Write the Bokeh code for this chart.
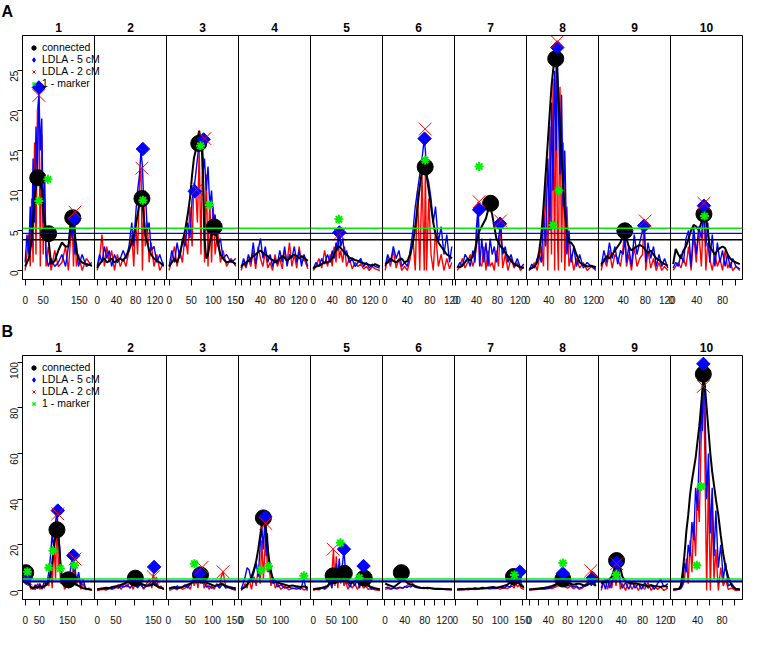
import math
from bokeh.plotting import figure
from bokeh.models import Range1d, FixedTicker, Span, Legend, LegendItem, LinearAxis, Title
from bokeh.layouts import column
from bokeh.embed import file_html
from bokeh.resources import INLINE

FONT = "Liberation Sans"
CHROM_NAMES = ["1", "2", "3", "4", "5", "6", "7", "8", "9", "10"]

# ---------------- Panel A ----------------
A_START = [0, 0, 0, 0, 0, 0.5, 3, 3, 0, 3]
A_END = [185, 138.5, 151, 138, 140, 119, 130.5, 128.5, 121, 107]
A_TICKS = [[0, 50, 100, 150], [0, 20, 40, 60, 80, 100, 120, 140], [0, 50, 100, 150],
           [0, 20, 40, 60, 80, 100, 120, 140], [0, 20, 40, 60, 80, 100, 120, 140],
           [0, 20, 40, 60, 80, 100, 120], [0, 20, 40, 60, 80, 100, 120],
           [0, 20, 40, 60, 80, 100, 120], [0, 20, 40, 60, 80, 100, 120],
           [0, 20, 40, 60, 80, 100]]
A_TICKLAB = [["0", "50", "", "150"], ["0", "", "40", "", "80", "", "120", ""], ["0", "50", "100", "150"],
             ["0", "", "40", "", "80", "", "120", ""], ["0", "", "40", "", "80", "", "120", ""],
             ["0", "", "40", "", "80", "", "120"], ["0", "", "40", "", "80", "", "120"],
             ["0", "", "40", "", "80", "", "120"], ["0", "", "40", "", "80", "", "120"],
             ["0", "", "40", "", "80", ""]]

A_POS = [
    [0, 5, 10, 14, 18, 22, 26, 30, 34, 38, 42, 46, 50, 54, 58, 64, 72, 82, 92, 102, 112, 120, 126, 130, 134, 138, 142, 148, 158, 170, 185],
    [0, 5, 10, 15, 20, 25, 30, 36, 42, 48, 54, 60, 66, 72, 76, 80, 84, 88, 91, 94, 97, 100, 104, 108, 112, 118, 124, 130, 138],
    [0, 6, 12, 18, 24, 30, 36, 42, 47, 52, 56, 60, 64, 68, 72, 76, 80, 84, 88, 92, 96, 100, 104, 110, 116, 122, 130, 140, 151],
    [0, 5, 10, 15, 20, 25, 30, 35, 40, 45, 50, 55, 60, 65, 70, 75, 80, 85, 90, 95, 100, 105, 110, 115, 120, 125, 130, 138],
    [0, 6, 12, 18, 24, 30, 36, 40, 44, 48, 52, 55, 58, 62, 66, 70, 76, 82, 88, 94, 100, 106, 112, 118, 124, 130, 140],
    [0.5, 5, 10, 15, 20, 25, 30, 35, 40, 45, 50, 54, 58, 62, 66, 70, 72, 74, 78, 82, 86, 90, 95, 100, 105, 110, 115, 119],
    [3, 8, 13, 18, 23, 28, 33, 37, 40, 43, 46, 50, 54, 58, 62, 66, 70, 74, 78, 82, 86, 90, 95, 100, 106, 112, 118, 124, 130.5],
    [3, 8, 13, 18, 22, 26, 30, 34, 38, 42, 45, 48, 51, 54, 56, 58, 61, 64, 67, 70, 74, 78, 82, 87, 92, 98, 105, 112, 120, 128.5],
    [0, 5, 10, 15, 20, 25, 30, 35, 40, 43, 46, 50, 55, 60, 65, 70, 75, 78, 81, 85, 90, 95, 100, 105, 110, 115, 121],
    [3, 7, 11, 15, 19, 23, 27, 31, 35, 39, 43, 47, 51, 54, 57, 60, 64, 68, 72, 76, 80, 84, 88, 92, 96, 101, 107],
]
A_BLACK = [
    [0.5, 1.0, 1.5, 2.5, 4.0, 6.5, 9.0, 10.5, 11.6, 11.8, 11.0, 10.0, 7.5, 6.0, 5.0, 4.2, 0.8, 1.2, 2.5, 3.5, 3.0, 3.0, 5.5, 6.6, 6.2, 4.5, 2.5, 1.5, 1.0, 0.8, 0.6],
    [0.3, 0.8, 1.2, 1.5, 1.0, 1.2, 1.5, 1.0, 1.3, 1.5, 1.2, 1.8, 2.5, 3.5, 4.5, 5.5, 7.0, 8.5, 9.0, 8.5, 6.5, 4.5, 3.5, 2.5, 2.0, 1.5, 1.2, 1.0, 0.6],
    [0.5, 1.0, 1.5, 1.0, 2.0, 3.5, 5.0, 7.0, 9.0, 12.0, 14.0, 15.0, 16.5, 17.5, 16.0, 14.0, 4.0, 1.5, 2.0, 3.5, 4.5, 5.5, 5.0, 3.5, 2.0, 1.5, 1.0, 1.2, 0.8],
    [0.5, 0.8, 1.0, 1.2, 1.5, 1.8, 2.0, 2.3, 2.5, 2.2, 2.0, 1.8, 1.5, 1.3, 1.0, 1.2, 1.5, 1.8, 1.6, 1.2, 1.5, 1.8, 2.0, 1.8, 1.5, 1.8, 1.6, 1.2],
    [0.3, 0.5, 0.6, 0.8, 1.0, 1.0, 1.2, 1.5, 2.0, 2.5, 3.0, 3.0, 2.8, 2.5, 2.2, 2.0, 1.6, 1.5, 1.3, 1.2, 1.0, 0.9, 0.8, 0.7, 0.6, 0.8, 0.5],
    [0.8, 1.0, 1.5, 1.2, 1.0, 1.3, 1.5, 1.0, 1.2, 2.0, 3.5, 5.5, 8.0, 10.5, 12.5, 13.0, 12.5, 12.0, 10.0, 8.0, 6.0, 4.5, 3.5, 3.0, 2.5, 2.0, 1.8, 1.5],
    [0.5, 0.4, 0.6, 1.0, 1.5, 1.2, 1.8, 2.5, 3.5, 4.5, 5.0, 5.5, 6.0, 6.5, 7.5, 8.0, 7.0, 5.5, 4.0, 3.5, 3.0, 2.8, 2.2, 1.8, 1.2, 0.8, 0.6, 0.4, 0.3],
    [0.2, 0.3, 0.5, 1.0, 2.5, 4.5, 8.0, 12.0, 16.0, 20.0, 23.0, 25.0, 26.5, 26.0, 24.5, 22.0, 18.0, 14.0, 10.5, 7.5, 4.5, 3.5, 3.5, 3.0, 2.0, 1.0, 0.7, 0.5, 0.6, 0.4],
    [0.8, 1.2, 1.8, 1.5, 2.0, 2.5, 3.0, 3.5, 4.5, 5.0, 4.0, 3.0, 2.5, 2.8, 3.0, 3.2, 3.0, 2.8, 2.5, 2.2, 2.5, 2.0, 1.5, 1.3, 1.0, 0.8, 0.6],
    [0.8, 2.7, 2.0, 1.5, 2.5, 3.0, 4.0, 5.0, 5.7, 5.5, 5.0, 6.0, 7.0, 6.5, 5.0, 3.0, 2.5, 2.0, 2.5, 2.8, 3.0, 2.8, 2.0, 1.5, 1.2, 1.0, 0.8],
]
A_BLUE = [
    [1.0, 4.5, 2.0, 8.0, 3.0, 14.0, 6.0, 18.0, 12.0, 22.9, 15.0, 19.0, 6.0, 12.0, 2.0, 0.5, 1.5, 0.5, 1.0, 2.0, 0.5, 3.0, 6.5, 4.0, 6.5, 2.0, 3.5, 0.5, 2.0, 0.5, 1.0],
    [0.5, 2.0, 1.0, 3.0, 1.5, 2.5, 0.5, 2.0, 1.0, 1.5, 2.5, 1.5, 3.0, 6.0, 3.0, 7.0, 10.0, 12.0, 15.0, 13.0, 8.0, 10.0, 5.0, 6.0, 2.5, 3.0, 1.0, 2.0, 0.5],
    [0.5, 2.5, 1.0, 3.5, 1.5, 4.0, 3.0, 6.0, 4.0, 9.0, 10.0, 12.0, 14.0, 16.0, 16.9, 12.0, 14.0, 10.0, 13.0, 8.0, 10.0, 6.0, 7.0, 3.0, 4.0, 1.5, 2.0, 1.0, 1.5],
    [0.3, 1.5, 0.5, 2.0, 1.0, 3.5, 0.8, 2.5, 4.0, 1.5, 3.0, 1.0, 2.0, 0.5, 1.5, 0.8, 2.5, 1.0, 3.0, 0.5, 2.0, 1.5, 3.0, 1.0, 2.5, 0.5, 2.0, 0.5],
    [0.2, 1.0, 0.5, 1.5, 0.8, 2.0, 1.0, 2.5, 1.5, 3.5, 2.5, 4.75, 3.0, 4.0, 2.0, 2.5, 1.0, 1.5, 0.5, 1.0, 1.5, 0.5, 1.0, 0.3, 0.8, 0.5, 0.3],
    [0.5, 2.0, 1.0, 3.0, 1.5, 2.5, 0.5, 1.0, 0.5, 2.5, 5.0, 8.0, 10.0, 12.0, 14.0, 16.5, 15.0, 12.0, 11.0, 9.0, 6.0, 8.0, 3.5, 5.5, 2.0, 4.5, 1.0, 3.0],
    [0.3, 1.0, 0.5, 2.0, 1.5, 0.5, 2.5, 1.0, 5.5, 7.6, 0.5, 4.0, 1.0, 3.5, 0.5, 4.0, 2.0, 3.0, 1.0, 4.0, 5.8, 2.0, 3.0, 1.0, 2.0, 0.5, 1.5, 0.3, 0.8],
    [0.0, 0.8, 0.3, 1.5, 2.0, 1.0, 7.0, 3.0, 14.0, 5.0, 21.0, 10.0, 25.0, 15.0, 27.9, 20.0, 12.0, 22.0, 8.0, 15.0, 2.0, 5.0, 1.0, 3.0, 0.5, 2.0, 0.3, 1.0, 0.5, 0.2],
    [0.5, 2.5, 1.0, 3.5, 1.5, 3.0, 0.8, 2.5, 2.0, 4.0, 1.0, 3.0, 0.5, 4.5, 2.0, 3.5, 5.0, 5.6, 1.0, 3.5, 1.5, 3.0, 0.5, 2.0, 0.5, 1.5, 0.3],
    [0.3, 1.0, 0.5, 2.0, 1.0, 4.0, 5.0, 0.5, 5.5, 2.0, 5.5, 4.0, 8.1, 3.0, 6.0, 1.0, 4.5, 0.5, 3.5, 1.0, 2.5, 0.5, 2.0, 0.3, 1.5, 0.5, 0.2],
]
A_RED = [
    [0.0, 2.0, 4.5, 0.5, 9.0, 1.0, 16.0, 2.0, 20.0, 21.9, 0.5, 17.0, 2.0, 9.0, 0.5, 3.0, 0.0, 2.5, 0.5, 1.0, 3.0, 0.0, 4.0, 7.3, 0.5, 6.0, 0.5, 2.0, 0.0, 1.5, 0.5],
    [0.0, 1.5, 4.5, 0.5, 3.0, 1.0, 2.5, 0.0, 2.0, 0.5, 1.5, 0.5, 2.5, 4.5, 0.5, 6.0, 2.0, 11.0, 12.8, 0.0, 9.0, 3.0, 6.0, 1.0, 3.5, 0.5, 2.0, 0.0, 1.0],
    [0.0, 1.5, 3.0, 0.5, 2.5, 1.0, 4.5, 2.0, 8.0, 3.0, 11.0, 10.1, 6.0, 15.0, 2.0, 16.5, 1.0, 12.0, 0.5, 9.0, 1.0, 8.0, 2.0, 5.0, 1.0, 2.5, 0.5, 1.5, 0.5],
    [0.0, 1.0, 0.3, 1.5, 0.5, 2.5, 0.2, 3.0, 1.5, 0.5, 2.5, 0.3, 1.0, 0.0, 2.0, 0.5, 1.5, 0.2, 2.5, 1.0, 3.5, 0.5, 2.0, 0.3, 3.0, 1.0, 1.5, 0.2],
    [0.0, 0.5, 1.5, 0.3, 2.5, 0.5, 2.0, 0.5, 3.0, 1.0, 4.5, 1.5, 2.5, 1.0, 3.0, 0.5, 1.5, 0.2, 1.0, 0.5, 0.8, 0.2, 0.5, 0.0, 0.5, 0.2, 0.0],
    [0.0, 1.5, 0.5, 2.5, 0.3, 1.5, 0.0, 0.5, 0.0, 1.5, 4.0, 0.0, 10.0, 0.0, 12.0, 0.0, 13.0, 0.0, 9.0, 2.0, 0.0, 5.0, 0.5, 2.0, 0.0, 1.5, 0.2, 1.0],
    [0.0, 0.5, 1.5, 0.3, 1.0, 2.0, 0.5, 1.5, 3.0, 8.6, 1.0, 0.5, 3.0, 0.0, 2.5, 0.5, 1.0, 0.0, 2.5, 0.5, 6.2, 0.3, 2.0, 0.0, 1.5, 0.3, 1.0, 0.0, 0.5],
    [0.0, 0.3, 1.0, 0.0, 1.5, 3.0, 0.5, 12.0, 0.0, 18.0, 2.0, 24.0, 0.0, 28.6, 5.0, 0.0, 23.0, 1.0, 16.0, 0.0, 8.0, 0.5, 2.0, 0.0, 1.5, 0.3, 1.0, 0.0, 0.5, 0.0],
    [0.0, 1.5, 0.5, 2.5, 0.3, 2.0, 1.5, 0.5, 3.0, 5.5, 0.5, 2.0, 0.0, 3.0, 0.5, 1.5, 2.0, 6.2, 0.0, 2.5, 0.3, 1.5, 0.0, 1.0, 0.0, 0.5, 0.0],
    [0.0, 0.5, 1.0, 0.3, 1.5, 0.5, 3.0, 0.0, 4.5, 1.0, 5.0, 0.5, 8.4, 0.0, 3.5, 1.5, 0.0, 2.0, 0.5, 1.5, 0.0, 2.5, 0.3, 1.0, 0.0, 0.5, 0.0],
]
# peak markers: (chromosome, cM, LOD)
A_CONN = [(1, 35, 11.6), (1, 65, 4.6), (1, 132, 6.6), (2, 93, 9.0), (3, 67, 15.9), (3, 102, 5.45),
          (6, 71.6, 12.95), (7, 67, 8.4), (8, 53, 26.5), (9, 43, 4.96), (10, 51, 7.05)]
A_LD5 = [(1, 38, 22.9), (1, 136, 6.5), (2, 95, 15.2), (3, 58, 9.9), (3, 78, 16.4), (5, 55, 4.75),
         (6, 70.5, 16.5), (7, 45, 7.6), (7, 85, 5.85), (8, 56, 27.9), (9, 78, 5.6), (10, 51, 8.1)]
A_LD2 = [(1, 38, 21.9), (1, 138, 7.3), (2, 93, 12.8), (3, 62, 10.1), (3, 81, 16.5), (5, 55, 4.55),
         (6, 71.6, 17.7), (7, 45, 8.6), (7, 86, 6.2), (8, 56, 28.6), (9, 80, 6.2), (10, 51, 8.4)]
A_MARK = [(1, 38, 8.7), (1, 63, 11.4), (2, 95, 8.8), (3, 71, 15.6), (3, 91, 8.2), (5, 54, 6.4),
          (6, 71.6, 13.8), (7, 45, 13.0), (8, 48, 5.7), (8, 59, 10.0), (10, 52, 6.8)]
A_THRESH = [("#00EE00", 5.29), ("#0000FF", 4.64), ("black", 3.84)]

# ---------------- Panel B ----------------
B_START = [0, 0, 2, 0, 0, 0.5, 4, 0, 2, 0.5]
B_END = [237, 178, 153, 168, 184, 134.5, 153, 138.5, 127.5, 109]
B_TICKS = [[0, 50, 100, 150, 200], [0, 50, 100, 150], [0, 50, 100, 150], [0, 50, 100, 150],
           [0, 50, 100, 150], [0, 20, 40, 60, 80, 100, 120], [0, 50, 100, 150],
           [0, 20, 40, 60, 80, 100, 120, 140], [0, 20, 40, 60, 80, 100, 120],
           [0, 20, 40, 60, 80, 100]]
B_TICKLAB = [["0", "50", "", "150", ""], ["0", "50", "", "150"], ["0", "50", "100", "150"],
             ["0", "50", "100", ""], ["0", "50", "100", ""], ["0", "", "40", "", "80", "", "120"],
             ["0", "50", "100", "150"], ["0", "", "40", "", "80", "", "120", ""],
             ["0", "", "40", "", "80", "", "120"], ["0", "", "40", "", "80", ""]]

B_POS = [
    [0, 5, 10, 15, 20, 28, 36, 44, 52, 60, 68, 76, 84, 90, 96, 102, 108, 113, 118, 122, 126, 132, 140, 148, 155, 162, 168, 172, 176, 182, 190, 198, 205, 215, 226, 237],
    [0, 8, 16, 24, 32, 40, 48, 56, 64, 72, 80, 88, 96, 102, 108, 116, 124, 132, 140, 146, 150, 154, 158, 164, 170, 178],
    [2, 8, 14, 20, 26, 32, 38, 44, 50, 55, 59, 63, 67, 70, 73, 77, 81, 86, 92, 98, 104, 110, 116, 120, 124, 130, 138, 146, 153],
    [0, 5, 10, 15, 20, 26, 32, 38, 43, 48, 52, 56, 60, 63, 66, 70, 75, 80, 86, 92, 100, 110, 120, 130, 140, 150, 158, 163, 168],
    [0, 8, 16, 24, 32, 40, 46, 52, 56, 60, 64, 68, 72, 76, 80, 85, 90, 96, 102, 108, 115, 122, 128, 134, 139, 145, 152, 160, 170, 184],
    [0.5, 6, 12, 18, 24, 30, 36, 40, 44, 48, 52, 56, 60, 66, 72, 78, 85, 92, 100, 108, 116, 124, 134.5],
    [4, 12, 20, 28, 36, 44, 52, 60, 68, 76, 84, 92, 100, 108, 116, 122, 127, 131, 135, 139, 143, 147, 153],
    [0, 8, 16, 24, 32, 40, 48, 54, 60, 65, 70, 75, 80, 86, 92, 98, 104, 110, 116, 122, 126, 129, 132, 135, 138.5],
    [2, 6, 10, 14, 18, 22, 26, 30, 34, 38, 42, 48, 54, 60, 66, 72, 78, 84, 90, 96, 102, 108, 114, 120, 127.5],
    [0.5, 5, 10, 13, 16, 19, 22, 25, 28, 31, 34, 37, 40, 43, 46, 48, 50, 52, 55, 58, 61, 64, 67, 70, 74, 78, 82, 86, 90, 96, 102, 109],
]
B_BLACK = [
    [7.8, 6.0, 4.0, 2.5, 1.5, 1.0, 1.5, 1.2, 1.8, 1.5, 2.0, 2.5, 4.0, 7.0, 12.0, 19.0, 24.0, 26.6, 24.0, 18.0, 10.0, 4.0, 3.0, 3.5, 4.7, 3.5, 3.0, 3.5, 3.0, 2.5, 2.0, 1.5, 1.0, 0.8, 0.5, 0.3],
    [0.5, 0.8, 1.0, 1.2, 1.0, 1.5, 1.8, 2.0, 2.5, 3.0, 3.5, 4.0, 5.0, 5.4, 4.5, 3.0, 2.5, 2.0, 2.2, 2.5, 2.8, 2.5, 2.0, 1.5, 1.2, 0.8],
    [1.0, 1.2, 1.5, 1.0, 1.3, 1.5, 2.0, 2.5, 3.0, 3.5, 4.0, 4.5, 5.0, 5.5, 6.0, 5.0, 4.0, 3.5, 3.0, 2.5, 2.0, 2.2, 2.5, 3.0, 2.5, 2.0, 1.5, 1.2, 1.0],
    [0.5, 1.0, 1.5, 2.5, 4.0, 6.0, 9.0, 13.0, 18.0, 24.0, 29.0, 31.8, 30.0, 26.0, 20.0, 14.0, 8.0, 5.0, 4.0, 3.5, 3.0, 2.5, 2.0, 2.2, 1.8, 1.5, 1.8, 1.5, 1.2],
    [0.5, 0.8, 1.0, 1.2, 1.5, 2.0, 3.0, 4.5, 5.5, 6.0, 5.5, 4.5, 5.0, 6.0, 7.0, 7.5, 6.0, 4.0, 3.0, 3.5, 4.0, 4.5, 5.0, 5.5, 5.0, 3.0, 2.0, 1.5, 1.0, 0.5],
    [3.0, 2.5, 2.0, 1.5, 2.5, 3.5, 5.0, 4.5, 3.5, 3.0, 2.5, 2.5, 2.0, 1.5, 1.2, 1.0, 1.2, 1.0, 0.8, 0.8, 0.6, 0.5, 0.5],
    [0.5, 0.6, 0.5, 0.8, 0.7, 1.0, 0.8, 1.2, 1.0, 1.3, 1.5, 1.2, 1.5, 2.0, 2.5, 3.5, 5.0, 6.1, 5.5, 4.0, 3.0, 2.0, 1.5],
    [0.5, 0.6, 0.8, 1.0, 1.2, 1.5, 2.0, 2.5, 3.5, 4.5, 5.0, 4.5, 3.5, 3.0, 2.5, 2.8, 3.0, 2.5, 2.0, 2.5, 3.0, 3.5, 3.0, 2.5, 2.0],
    [3.0, 4.0, 3.5, 4.5, 5.0, 6.0, 9.0, 12.5, 13.1, 10.0, 6.0, 4.0, 3.5, 3.0, 3.2, 2.8, 2.5, 2.2, 2.0, 2.3, 2.0, 1.8, 1.5, 2.0, 1.5],
    [0.5, 0.5, 0.8, 2.0, 8.0, 16.0, 26.0, 33.0, 42.0, 48.0, 53.0, 58.0, 65.0, 72.0, 81.0, 88.0, 94.8, 90.0, 80.0, 70.0, 60.0, 52.0, 46.0, 40.0, 33.0, 24.0, 16.0, 10.0, 6.0, 2.0, 0.8, 0.5],
]
B_BLUE = [
    [5.4, 6.0, 3.0, 5.0, 1.5, 0.5, 2.5, 1.0, 3.0, 0.5, 4.0, 2.0, 8.0, 15.0, 25.0, 18.0, 30.0, 35.0, 25.0, 20.0, 12.0, 5.0, 2.0, 4.0, 3.0, 10.0, 15.3, 8.0, 12.0, 4.0, 8.0, 2.0, 5.0, 1.0, 0.5, 0.2],
    [0.3, 0.5, 0.8, 0.5, 1.0, 0.8, 1.5, 1.0, 2.0, 1.5, 2.5, 1.0, 3.0, 2.0, 1.5, 2.5, 1.0, 2.0, 3.0, 2.0, 4.0, 2.5, 3.0, 1.5, 1.0, 0.5],
    [0.5, 1.5, 0.8, 2.0, 1.0, 1.5, 2.5, 1.0, 3.0, 4.0, 6.0, 3.0, 7.5, 5.0, 6.0, 3.0, 4.0, 1.5, 2.0, 1.0, 1.5, 2.5, 1.0, 2.0, 3.0, 1.0, 1.5, 0.5, 0.3],
    [0.5, 3.0, 6.0, 10.0, 9.0, 4.0, 8.0, 12.0, 6.0, 20.0, 28.0, 18.0, 32.2, 15.0, 25.0, 8.0, 10.0, 3.0, 4.0, 1.5, 2.5, 1.0, 1.5, 0.8, 1.2, 0.5, 5.0, 1.0, 0.5],
    [0.3, 0.8, 0.5, 1.2, 0.8, 2.0, 4.0, 1.0, 8.0, 3.0, 12.0, 5.0, 14.0, 6.0, 10.0, 18.1, 6.0, 3.0, 1.5, 4.0, 2.0, 5.0, 1.0, 6.0, 10.7, 2.0, 3.0, 0.5, 1.0, 0.2],
    [1.0, 1.5, 0.8, 1.2, 1.0, 1.5, 1.0, 1.8, 1.2, 2.0, 1.5, 2.2, 1.5, 1.2, 1.0, 1.3, 0.8, 1.0, 0.8, 0.6, 0.8, 0.5, 0.4],
    [0.3, 0.5, 0.4, 0.6, 0.5, 0.8, 0.6, 1.0, 0.8, 1.2, 1.0, 0.8, 1.5, 1.0, 2.0, 1.5, 3.0, 2.0, 4.0, 5.0, 8.2, 3.0, 1.0],
    [0.3, 0.5, 0.6, 0.8, 1.0, 0.8, 1.5, 2.0, 3.0, 4.0, 7.5, 3.0, 2.0, 2.5, 1.5, 2.0, 1.0, 1.5, 2.5, 3.0, 5.0, 2.0, 5.4, 3.0, 6.0],
    [1.0, 4.0, 0.5, 5.0, 1.0, 3.5, 6.0, 10.0, 12.0, 4.0, 1.0, 3.5, 0.5, 4.0, 1.0, 3.0, 0.5, 3.5, 1.0, 2.5, 0.5, 3.0, 5.0, 1.5, 3.0],
    [0.3, 0.5, 0.5, 1.0, 3.0, 12.0, 8.0, 20.0, 15.0, 30.0, 22.0, 45.0, 35.0, 60.0, 80.0, 70.0, 99.3, 85.0, 40.0, 60.0, 25.0, 45.0, 15.0, 35.0, 10.0, 20.0, 5.0, 12.0, 2.0, 3.0, 0.5, 0.3],
]
B_RED = [
    [5.0, 8.0, 2.0, 6.0, 0.5, 1.5, 0.3, 3.0, 0.5, 2.0, 1.0, 4.0, 2.0, 10.0, 1.0, 22.0, 5.0, 33.6, 10.0, 15.0, 3.0, 6.0, 0.5, 2.0, 1.0, 8.0, 3.0, 13.8, 5.0, 2.0, 6.0, 0.5, 3.0, 0.3, 1.0, 0.0],
    [0.0, 0.3, 0.5, 0.2, 0.8, 0.5, 1.0, 2.5, 0.5, 3.0, 1.5, 4.0, 0.5, 3.5, 1.0, 4.0, 0.5, 3.0, 5.0, 1.0, 7.5, 2.0, 6.0, 1.0, 2.0, 0.3],
    [0.0, 0.5, 1.0, 0.3, 1.5, 0.5, 1.0, 2.0, 0.5, 5.0, 2.0, 8.0, 1.0, 6.0, 3.0, 10.2, 1.0, 3.0, 0.5, 2.0, 0.5, 3.0, 1.0, 6.0, 8.2, 2.0, 1.0, 0.5, 0.2],
    [0.0, 1.0, 3.0, 1.0, 5.0, 0.5, 6.0, 2.0, 10.0, 3.0, 22.0, 5.0, 18.0, 29.4, 8.0, 12.0, 2.0, 6.0, 1.0, 3.0, 0.5, 2.0, 0.3, 1.0, 0.5, 1.5, 0.2, 0.5, 0.0],
    [0.0, 0.5, 0.3, 1.0, 0.5, 1.5, 3.0, 8.0, 18.1, 2.0, 15.0, 1.0, 10.0, 3.0, 8.0, 2.0, 4.0, 0.5, 2.5, 1.0, 3.0, 0.5, 2.0, 3.0, 1.0, 2.0, 0.5, 1.0, 0.3, 0.0],
    [0.5, 0.8, 0.5, 1.0, 0.6, 1.2, 1.0, 1.5, 2.0, 3.0, 3.5, 3.0, 2.0, 1.5, 1.0, 1.2, 0.8, 1.0, 0.6, 0.5, 0.6, 0.4, 0.3],
    [0.2, 0.3, 0.5, 0.3, 0.6, 0.4, 0.8, 0.5, 1.0, 0.6, 0.8, 1.0, 0.6, 1.2, 0.8, 1.5, 2.0, 1.0, 3.0, 1.5, 2.5, 1.0, 0.5],
    [0.2, 0.3, 0.4, 0.6, 0.5, 1.0, 0.8, 1.5, 2.0, 2.5, 3.0, 1.5, 1.0, 2.0, 0.8, 1.5, 0.5, 1.0, 2.0, 4.0, 6.0, 8.6, 3.0, 5.0, 2.0],
    [0.0, 3.0, 5.0, 0.5, 4.0, 1.0, 8.0, 2.0, 11.7, 0.5, 3.0, 0.0, 4.0, 0.5, 3.0, 0.0, 2.5, 0.5, 3.5, 0.0, 2.0, 0.5, 1.5, 0.0, 1.0],
    [0.0, 0.3, 0.5, 0.8, 2.0, 5.0, 14.0, 3.0, 22.0, 8.0, 30.0, 15.0, 45.0, 30.0, 65.0, 75.0, 89.4, 60.0, 0.0, 50.0, 0.0, 35.0, 5.0, 18.0, 0.0, 10.0, 2.0, 5.0, 0.5, 1.0, 0.0, 0.2],
]
B_CONN = [(1, 2, 7.8), (1, 113, 26.6), (1, 154, 4.7), (2, 102, 5.4), (3, 73, 6.8), (4, 56, 31.8),
          (5, 55, 6.4), (5, 86, 7.5), (5, 141, 5.4), (6, 33, 7.8), (7, 130, 6.1), (8, 70, 5.0),
          (9, 31, 13.1), (10, 49.6, 94.8)]
B_LD5 = [(1, 4, 5.4), (1, 116, 35.0), (1, 171, 15.3), (2, 152, 10.3), (3, 70, 7.5), (4, 61, 32.2),
         (5, 85, 18.1), (5, 139, 10.7), (7, 144, 8.2), (8, 70, 7.5), (8, 132, 5.4), (9, 31, 12.0),
         (10, 49.6, 99.3)]
B_LD2 = [(1, 4, 5.0), (1, 116, 33.6), (1, 177, 13.8), (2, 150, 6.0), (3, 77, 10.2), (3, 124, 8.2),
         (4, 62, 29.4), (5, 55, 18.1), (8, 128, 8.6), (9, 31, 11.7), (10, 49.6, 89.4)]
B_MARK = [(1, 8, 8.2), (1, 84, 10.0), (1, 99, 17.4), (1, 125, 9.6), (1, 175, 11.0), (3, 59, 11.7),
          (4, 50, 8.9), (4, 69, 10.6), (4, 158, 6.4), (5, 75, 20.9), (5, 127, 5.6), (7, 132, 6.8),
          (8, 70, 12.0), (9, 30, 6.8), (10, 46, 45.6), (10, 39, 11.0)]
B_THRESH = [("#00EE00", 5.0), ("#0000FF", 4.2), ("black", 3.8)]

LEGEND_LABELS = ["connected", "LDLA - 5 cM", "LDLA - 2 cM", "1 - marker"]


def scatter_group(p, pts, **kw):
    for i in range(10):
        xs = [c for (k, c, v) in pts if k == i + 1]
        ys = [v for (k, c, v) in pts if k == i + 1]
        if xs:
            p.scatter(xs, ys, x_range_name="c%d" % i, **kw)


def style_text_axis(ax, size):
    ax.minor_tick_line_color = None
    ax.major_tick_in = 0
    ax.major_label_text_font = FONT
    ax.major_label_text_font_size = size
    ax.major_label_text_color = "#111111"


def build(letter, starts, ends, ticks, ticklabs, pos, black, blue, red,
          conn, ld5, ld2, mark, ylim, yticks, thresholds, top, bottom, frame_h):
    p = figure(frame_width=720, frame_height=frame_h,
               x_range=Range1d(0, 10), y_range=Range1d(*ylim),
               output_backend="svg", toolbar_location=None, title=None,
               min_border_left=22, min_border_right=2,
               min_border_top=top, min_border_bottom=bottom)
    p.background_fill_color = "white"
    p.border_fill_color = "white"
    p.xgrid.visible = False
    p.ygrid.visible = False
    p.outline_line_color = "black"
    p.outline_line_width = 1
    p.outline_line_alpha = 1

    ranges = {}
    gticks, overrides = [], {}
    for i in range(10):
        s, e = starts[i], ends[i]
        pad = 0.04 * (e - s)
        lo, hi = s - pad, e + pad
        w = hi - lo
        ranges["c%d" % i] = Range1d(lo - i * w, hi + (9 - i) * w)
        for t, lab in zip(ticks[i], ticklabs[i]):
            if lo <= t <= hi:
                g = round(i + (t - lo) / w, 6)
                gticks.append(g)
                overrides[g] = lab if lab else " "
    p.extra_x_ranges = ranges

    for i in range(10):
        assert len(pos[i]) == len(black[i]) == len(blue[i]) == len(red[i]), (letter, i)
        nm = "c%d" % i
        p.line(pos[i], red[i], line_color="#FF0000", line_width=1.4, x_range_name=nm)
        p.line(pos[i], blue[i], line_color="#0000FF", line_width=1.4, x_range_name=nm)
        p.line(pos[i], black[i], line_color="black", line_width=2, x_range_name=nm)

    scatter_group(p, conn, marker="circle", size=16, fill_color="black", line_color="black")
    scatter_group(p, ld5, marker="square", angle=math.pi / 4, size=9.5,
                  fill_color="#0000FF", line_color="#0000FF")
    scatter_group(p, ld2, marker="x", size=18, line_color="#FF0000", line_width=1)
    scatter_group(p, mark, marker="asterisk", size=9, line_color="#00EE00", line_width=2)

    for col, v in thresholds:
        p.add_layout(Span(location=v, dimension="width", line_color=col, line_width=1.4))
    for k in range(1, 10):
        p.add_layout(Span(location=k, dimension="height", line_color="black", line_width=1))

    # legend: helper renderers with one point far outside the visible range
    off = ylim[0] - 1000
    l1 = p.scatter([5], [off], marker="circle", fill_color="black", line_color="black")
    l2 = p.scatter([5], [off], marker="diamond", fill_color="#0000FF", line_color="#0000FF")
    l3 = p.scatter([5], [off], marker="x", line_color="#FF0000", line_width=1)
    l4 = p.scatter([5], [off], marker="asterisk", line_color="#00EE00", line_width=1)
    legend = Legend(items=[LegendItem(label=LEGEND_LABELS[0], renderers=[l1]),
                           LegendItem(label=LEGEND_LABELS[1], renderers=[l2]),
                           LegendItem(label=LEGEND_LABELS[2], renderers=[l3]),
                           LegendItem(label=LEGEND_LABELS[3], renderers=[l4])],
                    location="top_left", background_fill_alpha=0, border_line_alpha=0,
                    label_text_font=FONT, label_text_font_size="10.5px", label_text_color="black",
                    glyph_height=11, glyph_width=11, label_height=11, spacing=0,
                    padding=2, margin=4, label_standoff=3)
    p.add_layout(legend)

    # bottom axis: per-chromosome cM ticks
    xa = p.below[0]
    xa.ticker = FixedTicker(ticks=gticks)
    xa.major_label_overrides = overrides
    style_text_axis(xa, "10px")
    xa.major_tick_out = 6
    xa.major_tick_line_color = "black"
    xa.axis_line_color = "black"
    xa.major_label_standoff = 9

    # chromosome numbers as a label-only axis above the frame
    top_ax = LinearAxis(ticker=FixedTicker(ticks=[i + 0.5 for i in range(10)]),
                        major_label_overrides={i + 0.5: CHROM_NAMES[i] for i in range(10)})
    style_text_axis(top_ax, "12px")
    top_ax.major_tick_out = 0
    top_ax.major_tick_line_color = None
    top_ax.axis_line_color = None
    top_ax.major_label_standoff = 4
    top_ax.major_label_text_font_style = "bold"
    top_ax.major_label_text_color = "black"
    p.add_layout(top_ax, "above")

    p.title = Title(text=letter, align="left", offset=-21, standoff=0,
                    text_font=FONT, text_font_style="bold", text_font_size="16px",
                    text_color="black")

    ya = p.left[0]
    ya.ticker = FixedTicker(ticks=yticks)
    style_text_axis(ya, "10px")
    ya.major_tick_out = 5
    ya.major_tick_line_color = "black"
    ya.axis_line_color = "black"
    ya.major_label_orientation = math.pi / 2
    ya.major_label_standoff = 3
    return p


pA = build("A", A_START, A_END, A_TICKS, A_TICKLAB, A_POS, A_BLACK, A_BLUE, A_RED,
           A_CONN, A_LD5, A_LD2, A_MARK, (-1.13, 29.4), [0, 5, 10, 15, 20, 25], A_THRESH,
           top=10, bottom=30, frame_h=244)
pB = build("B", B_START, B_END, B_TICKS, B_TICKLAB, B_POS, B_BLACK, B_BLUE, B_RED,
           B_CONN, B_LD5, B_LD2, B_MARK, (-3.96, 102.96), [0, 20, 40, 60, 80, 100], B_THRESH,
           top=46, bottom=28, frame_h=244)

layout = column(pA, pB, spacing=0)
open("out.html", "w").write(file_html(layout, INLINE))
